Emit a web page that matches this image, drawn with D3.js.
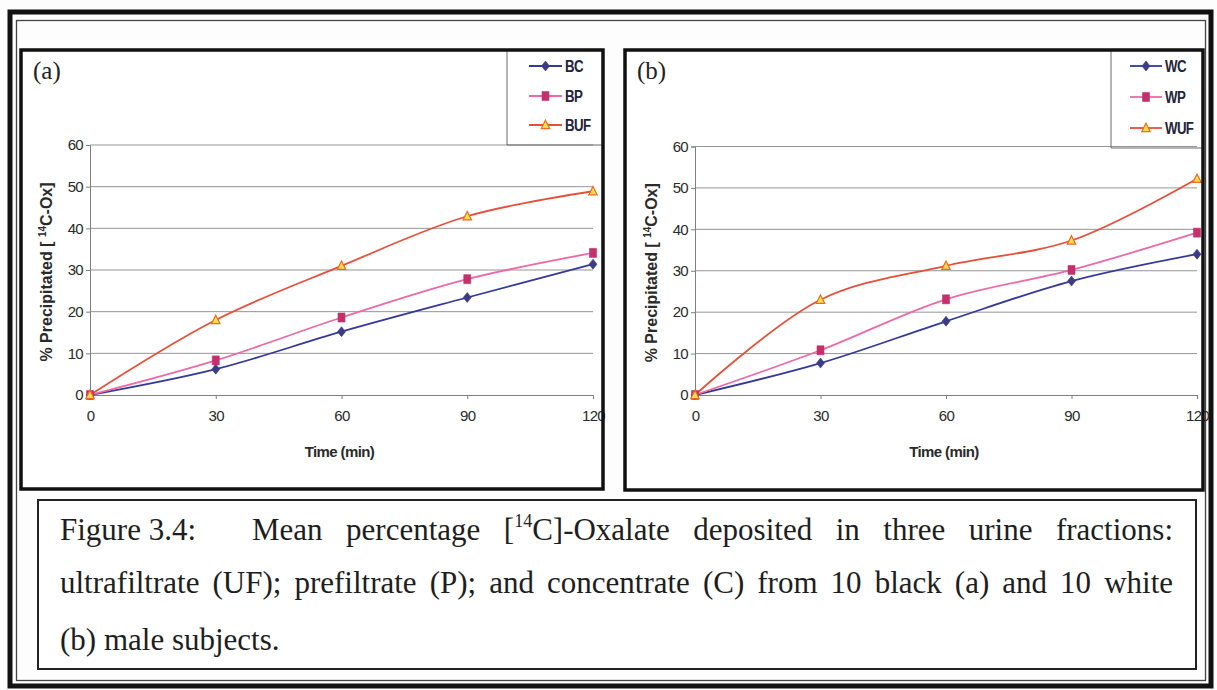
<!DOCTYPE html>
<html>
<head>
<meta charset="utf-8">
<script src="https://cdn.jsdelivr.net/npm/d3@7"></script>
<style>
  html, body { margin: 0; padding: 0; background: #fdfdfd; }
  svg { display: block; }
</style>
</head>
<body>
<svg id="fig" width="1217" height="690"></svg>
<script>
// ---- data -----------------------------------------------------------
const timePoints = [0, 30, 60, 90, 120];          // minutes
const yTicks = [0, 10, 20, 30, 40, 50, 60];        // % precipitated

// (a) black subjects
const blackC  = [0, 6.2, 15.2, 23.4, 31.4];
const blackP  = [0, 8.3, 18.6, 27.8, 34.1];
const blackUF = [0, 18.0, 31.0, 42.9, 48.9];

// (b) white subjects
const whiteC  = [0, 7.7, 17.8, 27.5, 34.0];
const whiteP  = [0, 10.8, 23.1, 30.2, 39.2];
const whiteUF = [0, 23.0, 31.2, 37.3, 52.2];

const seriesNamesA = ["BC", "BP", "BUF"];
const seriesNamesB = ["WC", "WP", "WUF"];

const captionLine1Lead = "Figure 3.4:";
const captionLine1 = ["Mean", "percentage", "[14C]-Oxalate", "deposited", "in", "three", "urine", "fractions:"];
const captionLine2 = ["ultrafiltrate", "(UF);", "prefiltrate", "(P);", "and", "concentrate", "(C)", "from", "10", "black", "(a)", "and", "10", "white"];
const captionLine3 = "(b) male subjects.";

// ---- styles ---------------------------------------------------------
const styles = [
  { line: "#34399a", fill: "#3b3b86", stroke: "#3b3b86", shape: "diamond" },
  { line: "#ee6aa6", fill: "#c4306c", stroke: "#c4306c", shape: "square" },
  { line: "#e6503a", fill: "#ffe04a", stroke: "#ec6a22", shape: "triangle" }
];

const svg = d3.select("#fig");
const sans = "'Liberation Sans', Arial, sans-serif";
const serif = "'Liberation Serif', 'Times New Roman', serif";

// ---- frames ---------------------------------------------------------
svg.append("rect").attr("x", 10).attr("y", 12).attr("width", 1201).attr("height", 674)
  .attr("fill", "#fdfdfd").attr("stroke", "#111").attr("stroke-width", 5);
svg.append("rect").attr("x", 16.5).attr("y", 20.5).attr("width", 1189).attr("height", 660)
  .attr("fill", "none").attr("stroke", "#444").attr("stroke-width", 1.3);

function markerPath(shape) {
  if (shape === "diamond") return "M0,-5L4,0L0,5L-4,0Z";
  if (shape === "square") return "M-3.5,-4.5H3.5V4.5H-3.5Z";
  return "M0,-4.8L4.2,3.6L-4.2,3.6Z";
}

function drawPanel(cfg) {
  const g = svg.append("g");
  const [bx0, by0, bx1, by1] = cfg.box;
  // panel background
  g.append("rect").attr("x", bx0).attr("y", by0)
    .attr("width", bx1 - bx0).attr("height", by1 - by0).attr("fill", "#ffffff");

  const x = d3.scaleLinear().domain([0, 120]).range(cfg.xr);
  const y = d3.scaleLinear().domain([0, 60]).range(cfg.yr);

  // gridlines
  g.append("g").selectAll("line").data(yTicks.filter(d => d > 0)).join("line")
    .attr("x1", x(0)).attr("x2", x(120))
    .attr("y1", d => y(d)).attr("y2", d => y(d))
    .attr("stroke", "#959595").attr("stroke-width", 1);

  // axes
  const yAxis = g.append("g").attr("transform", `translate(${x(0)},0)`)
    .call(d3.axisLeft(y).tickValues(yTicks).tickSize(4).tickPadding(3));
  const xAxis = g.append("g").attr("transform", `translate(0,${y(0)})`)
    .call(d3.axisBottom(x).tickValues(timePoints).tickSize(4).tickPadding(11));
  [xAxis, yAxis].forEach(a => {
    a.select(".domain").attr("stroke", "#808080");
    a.selectAll(".tick line").attr("stroke", "#808080");
    a.selectAll(".tick text").attr("fill", "#2a2a2a").attr("font-family", sans)
      .attr("font-size", 15).attr("letter-spacing", -0.7);
  });

  // axis titles
  g.append("text").attr("x", (x(0) + x(120)) / 2 - 2).attr("y", y(0) + 62)
    .attr("text-anchor", "middle").attr("font-family", sans).attr("font-weight", "bold")
    .attr("font-size", 15).attr("letter-spacing", -0.6).attr("fill", "#2a2a2a")
    .text("Time (min)");
  const yt = g.append("text")
    .attr("transform", `translate(${x(0) - 38},${(y(0) + y(60)) / 2 + 2}) rotate(-90)`)
    .attr("text-anchor", "middle").attr("font-family", sans).attr("font-weight", "bold")
    .attr("font-size", 16).attr("fill", "#2a2a2a");
  yt.append("tspan").text("% Precipitated [ ");
  yt.append("tspan").attr("font-size", 10).attr("dy", -6).text("14");
  yt.append("tspan").attr("dy", 6).text("C-Ox]");

  // series
  const line = d3.line().x((d, i) => x(timePoints[i])).y(d => y(d)).curve(d3.curveCatmullRom.alpha(0.5));
  cfg.series.forEach((vals, k) => {
    const st = styles[k];
    g.append("path").datum(vals).attr("d", line).attr("fill", "none")
      .attr("stroke", st.line).attr("stroke-width", 1.8);
  });
  cfg.series.forEach((vals, k) => {
    const st = styles[k];
    g.append("g").selectAll("path").data(vals).join("path")
      .attr("transform", (d, i) => `translate(${x(timePoints[i])},${y(d)})`)
      .attr("d", markerPath(st.shape))
      .attr("fill", st.fill).attr("stroke", st.stroke).attr("stroke-width", st.shape === "triangle" ? 1.2 : 0.6);
  });

  // legend
  const L = cfg.legend;
  g.append("path")
    .attr("d", `M${L.x0},${by0}V${L.y1}H${bx1}`)
    .attr("fill", "none").attr("stroke", "#6a6a6a").attr("stroke-width", 1);
  cfg.names.forEach((name, k) => {
    const st = styles[k];
    const cy = L.rows[k];
    g.append("line").attr("x1", L.lx0).attr("x2", L.lx1).attr("y1", cy).attr("y2", cy)
      .attr("stroke", st.line).attr("stroke-width", 1.8);
    g.append("path").attr("transform", `translate(${(L.lx0 + L.lx1) / 2},${cy})`)
      .attr("d", markerPath(st.shape)).attr("fill", st.fill).attr("stroke", st.stroke)
      .attr("stroke-width", st.shape === "triangle" ? 1.2 : 0.6);
    g.append("text").attr("transform", `translate(${L.lx1 + 3},${cy}) scale(0.78,1)`)
      .attr("dy", "0.36em")
      .attr("font-family", sans).attr("font-weight", "bold").attr("font-size", 17)
      .attr("letter-spacing", -0.8).attr("fill", "#23233a").text(name);
  });

  // panel letter
  g.append("text").attr("x", bx0 + 12).attr("y", 79)
    .attr("font-family", serif).attr("font-size", 25).attr("fill", "#222").text(cfg.tag);

  // panel border on top, so the last tick label runs under it
  g.append("rect").attr("x", bx0).attr("y", by0)
    .attr("width", bx1 - bx0).attr("height", by1 - by0)
    .attr("fill", "none").attr("stroke", "#111").attr("stroke-width", 3.5);
}

drawPanel({
  tag: "(a)", box: [21, 50, 603, 489], xr: [90, 593], yr: [395, 145],
  series: [blackC, blackP, blackUF], names: seriesNamesA,
  legend: { x0: 507, y1: 145, lx0: 529, lx1: 562, rows: [66, 96, 125] }
});
drawPanel({
  tag: "(b)", box: [625, 50, 1203, 490], xr: [695, 1197], yr: [395, 146.5],
  series: [whiteC, whiteP, whiteUF], names: seriesNamesB,
  legend: { x0: 1111, y1: 148, lx0: 1130, lx1: 1162, rows: [66, 97, 128] }
});

// ---- caption ---------------------------------------------------------
svg.append("rect").attr("x", 38).attr("y", 500).attr("width", 1158).attr("height", 169)
  .attr("fill", "#ffffff").attr("stroke", "#222").attr("stroke-width", 2);

const cap = svg.append("g").attr("font-family", serif).attr("font-size", 31).attr("fill", "#1e1e1e");

function addWord(word, xPos, yPos) {
  const t = cap.append("text").attr("x", xPos).attr("y", yPos);
  if (word.startsWith("[14")) {
    t.append("tspan").text("[");
    t.append("tspan").attr("font-size", 18).attr("dy", -13).text("14");
    t.append("tspan").attr("dy", 13).text(word.slice(3));
  } else {
    t.text(word);
  }
  return t;
}

// lay words out evenly between a start and end x (justified line)
function justify(words, x0, x1, yPos) {
  const nodes = words.map(w => addWord(w, 0, yPos));
  const widths = nodes.map(n => n.node().getComputedTextLength());
  const total = d3.sum(widths);
  const gap = (x1 - x0 - total) / (words.length - 1);
  let cx = x0;
  nodes.forEach((n, i) => { n.attr("x", cx); cx += widths[i] + gap; });
}

addWord(captionLine1Lead, 60, 540);
justify(captionLine1, 252, 1173, 540);
justify(captionLine2, 60, 1173, 593);
addWord(captionLine3, 60, 650);
</script>
</body>
</html>
